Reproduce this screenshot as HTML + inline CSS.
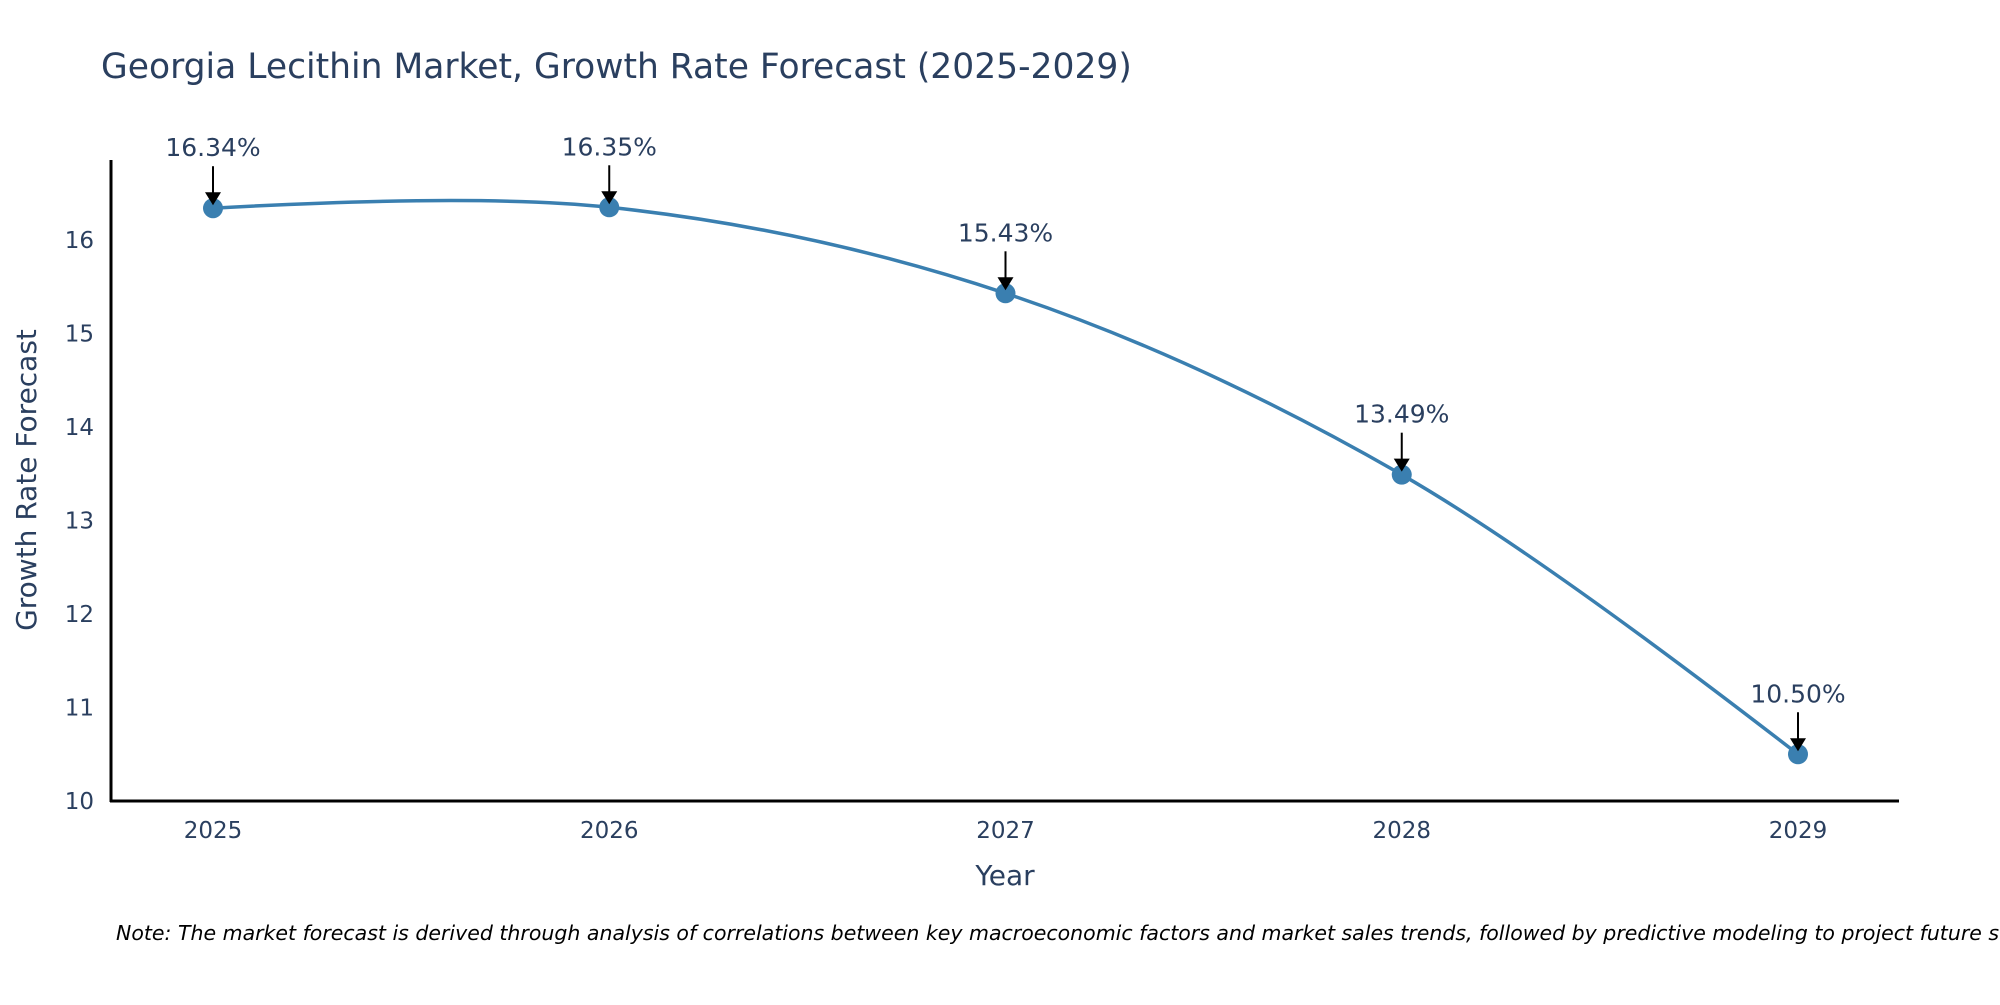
<!DOCTYPE html>
<html><head><meta charset="utf-8"><style>
body{margin:0;background:#fff}
svg text{font-family:"DejaVu Sans","Liberation Sans",sans-serif;fill:#2a3f5f}
</style></head><body>
<svg id="chart" width="2000" height="1000" viewBox="0 0 2000 1000" xmlns="http://www.w3.org/2000/svg">
<text x="101" y="78" font-size="34.5">Georgia Lecithin Market, Growth Rate Forecast (2025-2029)</text>
<g id="grid"></g>
<g id="series"></g>
<g id="annots"></g>
<line x1="111" y1="160" x2="111" y2="802" stroke="#000" stroke-width="3"/>
<line x1="110" y1="801" x2="1899" y2="801" stroke="#000" stroke-width="3"/>
<text x="1005" y="885" font-size="28" text-anchor="middle">Year</text>
<text transform="translate(36,480) rotate(-90)" font-size="28" text-anchor="middle">Growth Rate Forecast</text>
<text x="116" y="940" font-size="20.5" font-style="italic" style="fill:#000">Note: The market forecast is derived through analysis of correlations between key macroeconomic factors and market sales trends, followed by predictive modeling to project future sales</text>
</svg>
<script>
const years=[2025,2026,2027,2028,2029];
const values=[16.34,16.35,15.43,13.49,10.50];
const labels=["16.34%","16.35%","15.43%","13.49%","10.50%"];
const yTicks=[10,11,12,13,14,15,16];
const NS="http://www.w3.org/2000/svg";
const X=v=>213+(v-2025)*396.25;
const Y=v=>801-(v-10)*93.5;
function mk(t,a,p){const e=document.createElementNS(NS,t);for(const k in a)e.setAttribute(k,a[k]);p.appendChild(e);return e;}
const grid=document.getElementById('grid'),ser=document.getElementById('series'),ann=document.getElementById('annots');
yTicks.forEach(t=>{const e=mk('text',{x:94,y:Y(t)+8,'font-size':23,'text-anchor':'end'},grid);e.textContent=t;

});
years.forEach(t=>{const e=mk('text',{x:X(t),y:838,'font-size':23,'text-anchor':'middle'},grid);e.textContent=t;

});
const pts=years.map((y,i)=>[X(y),Y(values[i])]);
function tangent(a,b,c){const d1x=a[0]-b[0],d1y=a[1]-b[1],d2x=c[0]-b[0],d2y=c[1]-b[1];
const d1a=Math.pow(d1x*d1x+d1y*d1y,0.25),d2a=Math.pow(d2x*d2x+d2y*d2y,0.25);
const nx=d2a*d2a*d1x-d1a*d1a*d2x,ny=d2a*d2a*d1y-d1a*d1a*d2y;
const den1=3*d2a*(d1a+d2a),den2=3*d1a*(d1a+d2a);
return [[b[0]+nx/den1,b[1]+ny/den1],[b[0]-nx/den2,b[1]-ny/den2]];}
const tg=[];for(let i=1;i<pts.length-1;i++)tg.push(tangent(pts[i-1],pts[i],pts[i+1]));
let d=`M${pts[0]} Q${tg[0][0]} ${pts[1]}`;
for(let i=1;i<pts.length-2;i++)d+=` C${tg[i-1][1]} ${tg[i][0]} ${pts[i+1]}`;
d+=` Q${tg[tg.length-1][1]} ${pts[pts.length-1]}`;
const ln=mk('path',{d:d,fill:'none',stroke:'#3a7fb0','stroke-width':3.5},ser);


pts.forEach((p,i)=>{const c=mk('circle',{cx:p[0],cy:p[1],r:10,fill:'#3a7fb0'},ser);


const a=mk('line',{x1:p[0],y1:p[1]-42,x2:p[0],y2:p[1]-14,stroke:'#000','stroke-width':2},ann);


const h=mk('path',{d:`M${p[0]-8},${p[1]-16} L${p[0]+8},${p[1]-16} L${p[0]},${p[1]-3} Z`,fill:'#000'},ann);


const t=mk('text',{x:p[0],y:p[1]-52,'font-size':25,'text-anchor':'middle'},ann);t.textContent=labels[i];

});
</script>
</body></html>
